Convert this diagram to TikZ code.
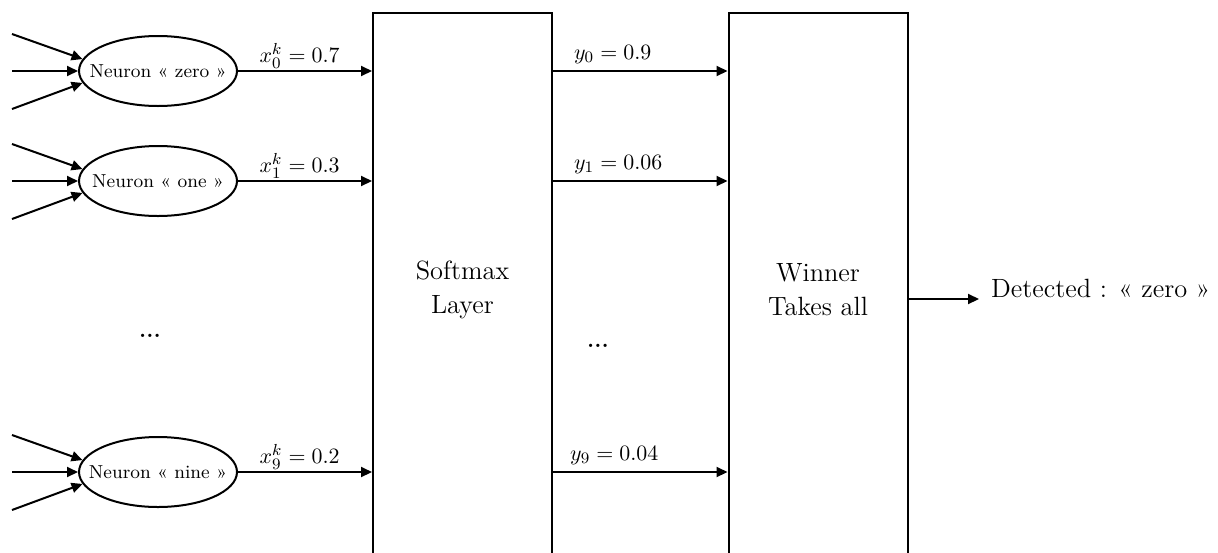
\documentclass[tikz,border=0pt]{standalone}
\usetikzlibrary{arrows.meta,shapes.geometric}
\begin{document}
\begin{tikzpicture}[x=0.5pt,y=-0.5pt,
  line width=1pt,
  arr/.style={-{Triangle[length=5.5pt,width=5pt]}},
  neuron/.style={ellipse,draw,minimum width=79pt,minimum height=35pt,inner sep=0pt,
    font=\fontsize{9.4}{11}\selectfont},
  layerbox/.style={draw,rectangle,minimum width=89.5pt,minimum height=277pt,
    inner sep=0pt,align=center,font=\fontsize{13.2}{17}\selectfont},
  lbl/.style={font=\fontsize{11}{13}\selectfont,inner sep=0pt},
  maintext/.style={font=\fontsize{13.2}{16}\selectfont,inner sep=0pt},
  dotsnode/.style={font=\fontsize{11.5}{13}\selectfont\bfseries,inner sep=0pt}]
\clip (0,0) rectangle (1218,552);

% layer boxes
\node[layerbox] (soft) at (462.5,290) {Softmax\\Layer};
\node[layerbox] (win) at (818,290) {Winner\\Takes all};

% neurons
\node[neuron] (n0) at (158,71) {\makebox[0pt]{Neuron « zero »}};
\node[neuron] (n1) at (158,181) {\makebox[0pt]{Neuron « one »}};
\node[neuron] (n9) at (158,472) {\makebox[0pt]{Neuron « nine »}};

% inputs
\foreach \n/\c in {n0/71,n1/181,n9/472}{
  \coordinate (\n-ia) at (12,\c-37);
  \coordinate (\n-ib) at (12,\c);
  \coordinate (\n-ic) at (12,\c+38);
  \draw[arr] (\n-ia) -- (\n.171);
  \draw[arr] (\n-ib) -- (\n.west);
  \draw[arr] (\n-ic) -- (\n.189);
}

% neuron outputs to softmax
\draw[arr] (n0.east) -- (n0.east -| soft.west)
  node[lbl,pos=0.46,anchor=base,yshift=4.5pt] (lx0) {$x^{k}_{\vphantom{k}0} = 0.7$};
\draw[arr] (n1.east) -- (n1.east -| soft.west)
  node[lbl,pos=0.46,anchor=base,yshift=4.5pt] (lx1) {$x^{k}_{\vphantom{k}1} = 0.3$};
\draw[arr] (n9.east) -- (n9.east -| soft.west)
  node[lbl,pos=0.46,anchor=base,yshift=4.5pt] (lx9) {$x^{k}_{\vphantom{k}9} = 0.2$};

% softmax to winner
\draw[arr] (soft.east |- n0) -- (win.west |- n0);
\draw[arr] (soft.east |- n1) -- (win.west |- n1);
\draw[arr] (soft.east |- n9) -- (win.west |- n9);
\node[lbl,anchor=base west] (ly0) at ([xshift=10pt,yshift=6pt]soft.east |- n0) {$y_0 = 0.9$};
\node[lbl,anchor=base west] (ly1) at ([xshift=10pt,yshift=6pt]soft.east |- n1) {$y_1 = 0.06$};
\node[lbl,anchor=base west] (ly9) at ([xshift=8pt,yshift=6pt]soft.east |- n9) {$y_9 = 0.04$};

% dots
\node[dotsnode] (d1) at (150,336) {...};
\node[dotsnode] (d2) at (598,346) {...};

% output
\coordinate (dout) at (979,299);
\draw[arr] (win.east |- dout) -- (dout);
\node[maintext,anchor=base west] (det) at (990,297) {Detected : « zero »};
\end{tikzpicture}
\end{document}
